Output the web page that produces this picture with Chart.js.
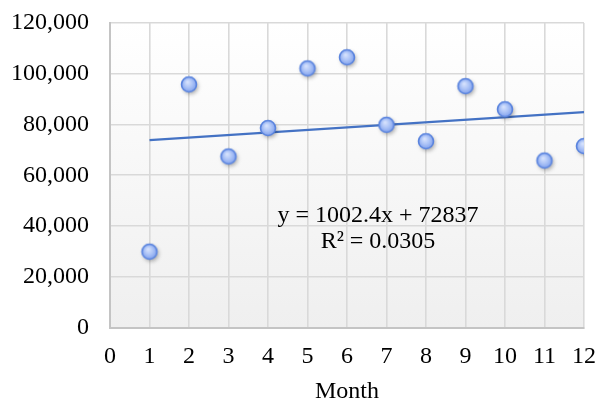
<!DOCTYPE html>
<html>
<head>
<meta charset="utf-8">
<script src="https://cdn.jsdelivr.net/npm/chart.js@4/dist/chart.umd.min.js"></script>
<style>
  html, body { margin: 0; padding: 0; background: #fff; }
  #wrap { width: 598px; height: 401px; }
</style>
</head>
<body>
<div id="wrap"><canvas id="chart" width="598" height="401"></canvas></div>
<script>
// ── data ──
const months = [1, 2, 3, 4, 5, 6, 7, 8, 9, 10, 11, 12];
const sales = [29900, 95800, 67400, 78600, 102100, 106500, 79900, 73400, 95100, 86000, 65800, 71500];
const trendSlope = 1002.4, trendIntercept = 72837;
const trendLabel = ['y = 1002.4x + 72837', 'R² = 0.0305'];
const xTitle = 'Month';

const serif = "'Liberation Serif', 'Times New Roman', serif";

// sphere-ish marker like the Excel one
function makeMarker() {
  const c = document.createElement('canvas');
  c.width = 30; c.height = 30;
  const g = c.getContext('2d');
  g.save();
  g.shadowColor = 'rgba(0,0,0,0.35)';
  g.shadowBlur = 4;
  g.shadowOffsetX = 1.5;
  g.shadowOffsetY = 2;
  g.beginPath();
  g.arc(15, 15, 7.5, 0, Math.PI * 2);
  g.fillStyle = '#7d9ee6';
  g.fill();
  g.restore();
  const rg = g.createRadialGradient(13.5, 12.5, 0.5, 15, 15, 7.8);
  rg.addColorStop(0, '#d6e2fd');
  rg.addColorStop(0.55, '#a9c1f6');
  rg.addColorStop(1, '#7f9fec');
  g.beginPath();
  g.arc(15, 15, 7.5, 0, Math.PI * 2);
  g.fillStyle = rg;
  g.fill();
  g.lineWidth = 1.6;
  g.strokeStyle = '#5a84de';
  g.stroke();
  return c;
}

const plotBg = {
  id: 'plotBg',
  beforeDraw(chart) {
    const { ctx, chartArea: a } = chart;
    const grad = ctx.createLinearGradient(0, a.top, 0, a.bottom);
    grad.addColorStop(0, '#ffffff');
    grad.addColorStop(1, '#efefef');
    ctx.save();
    ctx.fillStyle = grad;
    ctx.fillRect(a.left, a.top, a.right - a.left, a.bottom - a.top);
    ctx.restore();
  }
};

const trendText = {
  id: 'trendText',
  afterDatasetsDraw(chart) {
    const { ctx, chartArea: a } = chart;
    ctx.save();
    ctx.font = '24px ' + serif;
    ctx.fillStyle = '#000';
    ctx.textAlign = 'center';
    ctx.textBaseline = 'middle';
    const cx = a.left + 268;
    ctx.fillText(trendLabel[0], cx, a.top + 193);
    ctx.fillText(trendLabel[1], cx, a.top + 219);
    ctx.restore();
  }
};

const scatterPts = months.map((m, i) => ({ x: m, y: sales[i] }));
const trendPts = [months[0], months[months.length - 1]].map(x => ({ x: x, y: trendSlope * x + trendIntercept }));

new Chart(document.getElementById('chart').getContext('2d'), {
  type: 'scatter',
  data: {
    datasets: [
      { label: 'Sales', data: scatterPts, pointStyle: makeMarker(), pointRadius: 8, order: 0 },
      { label: 'Trend', data: trendPts, showLine: true, borderColor: '#4472c4', borderWidth: 2.2, pointRadius: 0, order: 1 }
    ]
  },
  options: {
    responsive: false,
    animation: false,
    devicePixelRatio: 1,
    layout: { padding: { top: 23, right: 14, left: 0, bottom: 0 } },
    plugins: { legend: { display: false }, tooltip: { enabled: false } },
    scales: {
      x: {
        type: 'linear', min: 0, max: 12,
        afterFit: s => { s.height = 73.5; s.paddingLeft = 0; s.paddingRight = 0; },
        grid: { color: '#d9d9d9', lineWidth: 1.6, drawTicks: false },
        border: { color: '#c4c4c4', width: 2 },
        ticks: { stepSize: 1, padding: 15, color: '#000', font: { family: serif, size: 24 } },
        title: { display: true, text: xTitle, color: '#000', padding: { top: 0, bottom: 0 }, font: { family: serif, size: 24, lineHeight: 0.8 } }
      },
      y: {
        min: 0, max: 120000,
        afterFit: s => { s.width = 110; s.paddingTop = 0; s.paddingBottom = 0; },
        grid: { color: '#d9d9d9', lineWidth: 1.6, drawTicks: false },
        border: { color: '#c4c4c4', width: 2 },
        ticks: { stepSize: 20000, padding: 21, color: '#000', font: { family: serif, size: 24 },
          callback: v => v.toLocaleString('en-US') }
      }
    }
  },
  plugins: [plotBg, trendText]
});
</script>
</body>
</html>
